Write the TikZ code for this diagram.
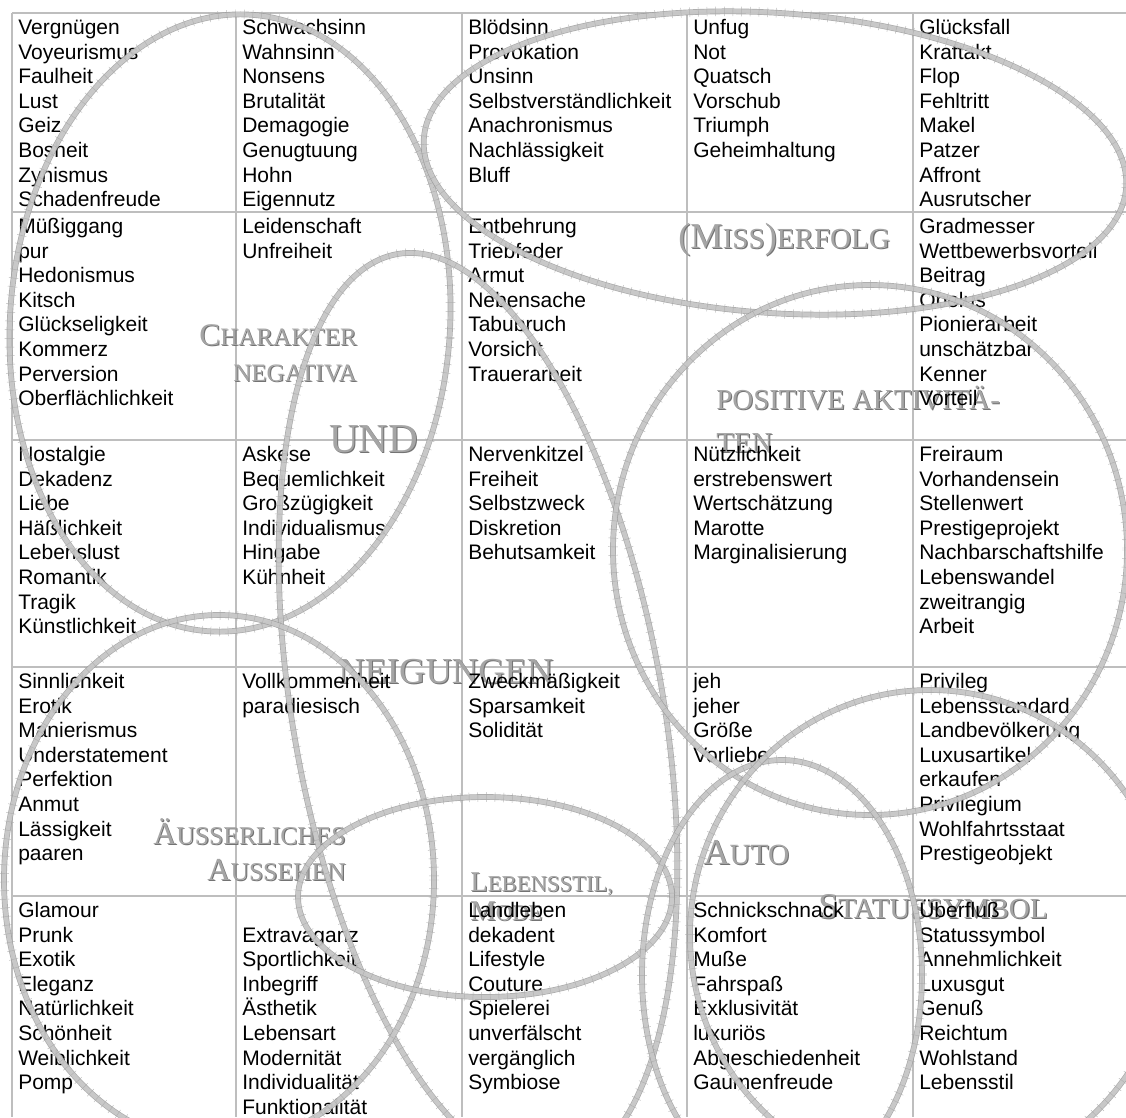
\documentclass[tikz,border=0pt]{standalone}
\usepackage{fontspec}
\setmainfont{Liberation Sans}
\newfontfamily\lblfont{Liberation Serif}
\usetikzlibrary{decorations.pathreplacing}
\definecolor{gridgray}{RGB}{190,190,190}
\definecolor{lblgray}{RGB}{165,165,165}
\definecolor{lblshadow}{RGB}{115,115,115}
\definecolor{ringedge}{RGB}{150,150,150}
\definecolor{ringfill}{RGB}{208,208,208}
\definecolor{ringtickc}{RGB}{170,170,170}
\newcommand\Lg[2]{{\fontsize{#1}{#1}\selectfont #2}}
\newcommand\cellwords[5]{%
  \foreach \w [count=\i from #4] in {#5}{%
    \node[word] (#1-\i) at (#2, {#3+21.5+(\i-1)*24.6}) {\w};
  }}
\newcommand\lbl[4]{%
  \node[lbltext, text=lblshadow, anchor=#2, xshift=0.8pt, yshift=-0.8pt] (#1s) at (#3) {#4};
  \node[lbltext, anchor=#2] (#1) at (#3) {#4};}
\newcommand\myring[5]{%
  \draw[ringband, rotate around={#5:(#1,#2)}] (#1,#2) ellipse [x radius=#3, y radius=#4];
  \draw[ringticks, rotate around={#5:(#1,#2)}] (#1,#2) ellipse [x radius=#3, y radius=#4];}
\tikzset{
  word/.style={anchor=base west, inner sep=0pt, font=\fontsize{15.75}{18}\selectfont, text=black},
  lbltext/.style={inner sep=0pt, font=\lblfont, text=lblgray, align=left},
  gridline/.style={draw=gridgray, line width=1.2pt},
  ringband/.style={draw=ringedge, line width=0.5pt, double=ringfill, double distance=3.3pt, opacity=0.8},
  ringticks/.style={draw=ringtickc, line width=0.35pt, opacity=0.8, decorate,
    decoration={ticks, segment length=6.5pt, amplitude=3.6pt}},
}
\begin{document}
\begin{tikzpicture}[x=0.75pt, y=-0.75pt]
\useasboundingbox (0,0) rectangle (1126,1117);
\fill[white] (0,0) rectangle (1126,1117);
% grid
\foreach \yy in {13,212,440,667,896}{\draw[gridline] (12,\yy) -- (1126,\yy);}
\foreach \xx in {12,236,462,687,913}{\draw[gridline] (\xx,13) -- (\xx,1117);}
% labels
\lbl{charakter}{base east}{357,345}{\Lg{23.6}{C}\Lg{18.8}{HARAKTER}}
\lbl{negativa}{base east}{357,381}{\Lg{18.8}{NEGATIVA}}
\lbl{und}{base west}{329,452}{\Lg{30.8}{UND}}
\lbl{neigungen}{base west}{338,683}{\Lg{27.4}{NEIGUNGEN}}
\lbl{misserfolg}{base west}{678,248}{\Lg{27.3}{(M}\Lg{21.8}{ISS}\Lg{27.3}{)}\Lg{21.8}{ERFOLG}}
\lbl{positive}{base west}{716,409}{\Lg{21.7}{POSITIVE AKTIVITÄ-}}
\lbl{ten}{base west}{716,452}{\Lg{21.7}{TEN}}
\lbl{ausserlich}{base east}{346,844}{\Lg{24}{Ä}\Lg{19.2}{USSERLICHES}}
\lbl{aussehen}{base east}{346,880}{\Lg{24}{A}\Lg{19.2}{USSEHEN}}
\lbl{auto}{base west}{703,864}{\Lg{27.3}{A}\Lg{22}{UTO}}
\lbl{status}{base west}{818,918}{\Lg{27.2}{S}\Lg{21.8}{TATUSSYMBOL}}
\lbl{lebensstil}{base west}{470,891}{\Lg{21.5}{L}\Lg{17}{EBENSSTIL,}}
\lbl{mode}{base west}{470,920}{\Lg{21.5}{M}\Lg{17}{ODE}}
% words
\cellwords{a1}{18}{13}{1}{Vergnügen,Voyeurismus,Faulheit,Lust,Geiz,Bosheit,Zynismus,Schadenfreude}
\cellwords{b1}{242}{13}{1}{Schwachsinn,Wahnsinn,Nonsens,Brutalität,Demagogie,Genugtuung,Hohn,Eigennutz}
\cellwords{c1}{468}{13}{1}{Blödsinn,Provokation,Unsinn,Selbstverständlichkeit,Anachronismus,Nachlässigkeit,Bluff}
\cellwords{d1}{693}{13}{1}{Unfug,Not,Quatsch,Vorschub,Triumph,Geheimhaltung}
\cellwords{e1}{919}{13}{1}{Glücksfall,Kraftakt,Flop,Fehltritt,Makel,Patzer,Affront,Ausrutscher}
\cellwords{a2}{18}{212}{1}{Müßiggang,pur,Hedonismus,Kitsch,Glückseligkeit,Kommerz,Perversion,Oberflächlichkeit}
\cellwords{b2}{242}{212}{1}{Leidenschaft,Unfreiheit}
\cellwords{c2}{468}{212}{1}{Entbehrung,Triebfeder,Armut,Nebensache,Tabubruch,Vorsicht,Trauerarbeit}
\cellwords{e2}{919}{212}{1}{Gradmesser,Wettbewerbsvorteil,Beitrag,Obolus,Pionierarbeit,unschätzbar,Kenner,Vorteil}
\cellwords{a3}{18}{440}{1}{Nostalgie,Dekadenz,Liebe,Häßlichkeit,Lebenslust,Romantik,Tragik,Künstlichkeit}
\cellwords{b3}{242}{440}{1}{Askese,Bequemlichkeit,Großzügigkeit,Individualismus,Hingabe,Kühnheit}
\cellwords{c3}{468}{440}{1}{Nervenkitzel,Freiheit,Selbstzweck,Diskretion,Behutsamkeit}
\cellwords{d3}{693}{440}{1}{Nützlichkeit,erstrebenswert,Wertschätzung,Marotte,Marginalisierung}
\cellwords{e3}{919}{440}{1}{Freiraum,Vorhandensein,Stellenwert,Prestigeprojekt,Nachbarschaftshilfe,Lebenswandel,zweitrangig,Arbeit}
\cellwords{a4}{18}{667}{1}{Sinnlichkeit,Erotik,Manierismus,Understatement,Perfektion,Anmut,Lässigkeit,paaren}
\cellwords{b4}{242}{667}{1}{Vollkommenheit,paradiesisch}
\cellwords{c4}{468}{667}{1}{Zweckmäßigkeit,Sparsamkeit,Solidität}
\cellwords{d4}{693}{667}{1}{jeh,jeher,Größe,Vorliebe}
\cellwords{e4}{919}{667}{1}{Privileg,Lebensstandard,Landbevölkerung,Luxusartikel,erkaufen,Privilegium,Wohlfahrtsstaat,Prestigeobjekt}
\cellwords{a5}{18}{896}{1}{Glamour,Prunk,Exotik,Eleganz,Natürlichkeit,Schönheit,Weiblichkeit,Pomp}
\cellwords{b5}{242}{896}{2}{Extravaganz,Sportlichkeit,Inbegriff,Ästhetik,Lebensart,Modernität,Individualität,Funktionalität}
\cellwords{c5}{468}{896}{1}{Landleben,dekadent,Lifestyle,Couture,Spielerei,unverfälscht,vergänglich,Symbiose}
\cellwords{d5}{693}{896}{1}{Schnickschnack,Komfort,Muße,Fahrspaß,Exklusivität,luxuriös,Abgeschiedenheit,Gaumenfreude}
\cellwords{e5}{919}{896}{1}{Überfluß,Statussymbol,Annehmlichkeit,Luxusgut,Genuß,Reichtum,Wohlstand,Lebensstil}
% rings
\myring{230}{323}{220}{309}{-4}
\myring{775}{163}{352}{150}{-4}
\myring{478}{712}{185}{465}{10}
\myring{870}{550}{257}{265}{0}
\myring{219}{880}{215}{265}{0}
\myring{485}{897}{187}{100}{0}
\myring{782}{975}{140}{215}{0}
\myring{930}{935}{240}{245}{0}
\end{tikzpicture}
\end{document}
